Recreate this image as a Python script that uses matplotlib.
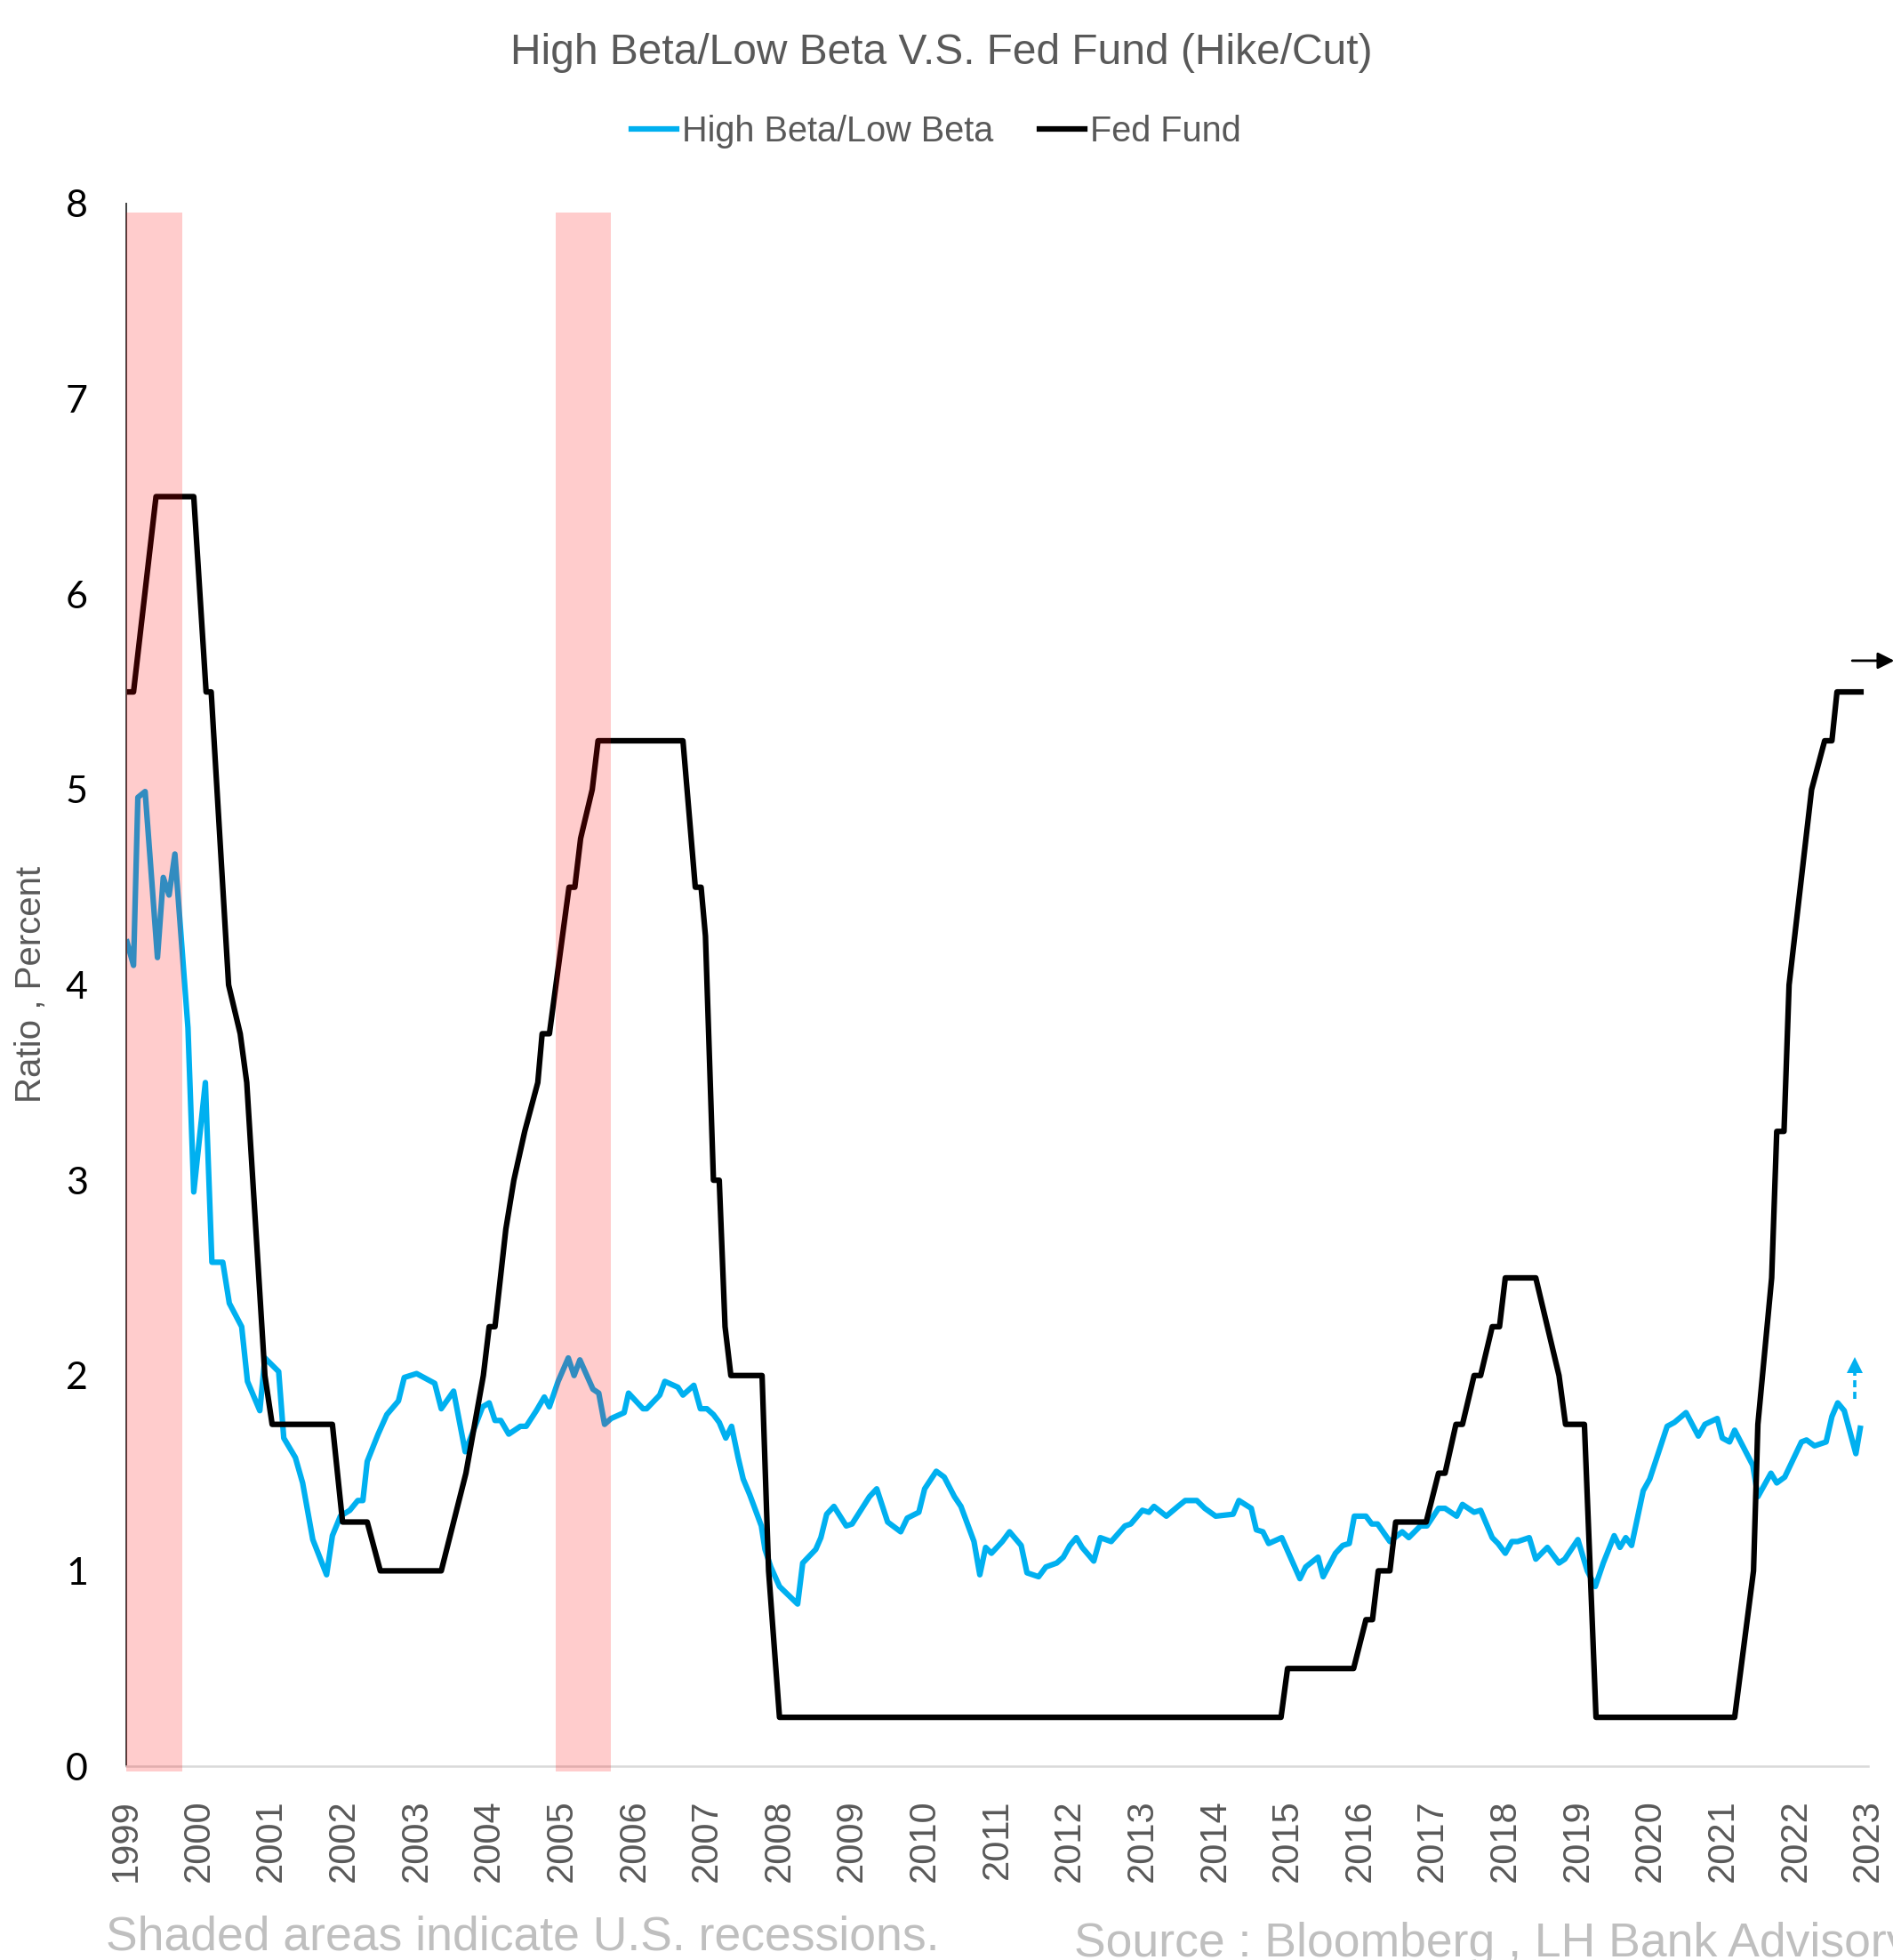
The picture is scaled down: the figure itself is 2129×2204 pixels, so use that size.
import numpy as np
import matplotlib.pyplot as plt

# High Beta / Low Beta ratio, x in decimal years as printed on the axis
beta_years = [1999.01, 1999.10, 1999.16, 1999.26, 1999.43, 1999.51, 1999.59, 1999.67,
              1999.85, 1999.93, 2000.09, 2000.18, 2000.33, 2000.42, 2000.59, 2000.67,
              2000.84, 2000.91, 2001.10, 2001.17, 2001.33, 2001.43, 2001.57, 2001.76,
              2001.84, 2001.95, 2002.08, 2002.19, 2002.26, 2002.32, 2002.47, 2002.59,
              2002.75, 2002.83, 2003.00, 2003.25, 2003.34, 2003.51, 2003.67, 2003.91,
              2004.00, 2004.08, 2004.16, 2004.27, 2004.43, 2004.51, 2004.65, 2004.76,
              2004.83, 2004.95, 2005.09, 2005.17, 2005.25, 2005.43, 2005.51, 2005.59,
              2005.68, 2005.86, 2005.92, 2006.12, 2006.17, 2006.35, 2006.42, 2006.60,
              2006.67, 2006.82, 2006.91, 2007.00, 2007.09, 2007.17, 2007.26, 2007.34,
              2007.43, 2007.50, 2007.59, 2007.75, 2007.80, 2007.88, 2008.00, 2008.25,
              2008.32, 2008.50, 2008.57, 2008.65, 2008.75, 2008.92, 2009.00, 2009.24,
              2009.34, 2009.49, 2009.67, 2009.76, 2009.92, 2010.00, 2010.16, 2010.27,
              2010.41, 2010.50, 2010.68, 2010.76, 2010.84, 2010.92, 2011.07, 2011.17,
              2011.33, 2011.41, 2011.57, 2011.67, 2011.82, 2011.91, 2012.00, 2012.09,
              2012.17, 2012.33, 2012.42, 2012.57, 2012.76, 2012.84, 2013.00, 2013.09,
              2013.16, 2013.33, 2013.49, 2013.59, 2013.75, 2013.86, 2014.01, 2014.25,
              2014.33, 2014.50, 2014.57, 2014.66, 2014.74, 2014.92, 2015.17, 2015.25,
              2015.42, 2015.49, 2015.66, 2015.76, 2015.85, 2015.92, 2016.08, 2016.16,
              2016.24, 2016.41, 2016.58, 2016.67, 2016.83, 2016.92, 2017.08, 2017.17,
              2017.33, 2017.41, 2017.57, 2017.66, 2017.82, 2017.90, 2018.00, 2018.09,
              2018.17, 2018.33, 2018.42, 2018.58, 2018.74, 2018.82, 2019.00, 2019.13,
              2019.24, 2019.35, 2019.50, 2019.58, 2019.66, 2019.74, 2019.90, 2019.99,
              2020.23, 2020.33, 2020.49, 2020.66, 2020.75, 2020.92, 2020.99, 2021.09,
              2021.16, 2021.41, 2021.48, 2021.66, 2021.74, 2021.85, 2022.08, 2022.15,
              2022.26, 2022.42, 2022.50, 2022.58, 2022.67, 2022.83, 2022.89]
beta_vals = [4.22, 4.10, 4.96, 4.99, 4.14, 4.55, 4.46, 4.67,
             3.78, 2.94, 3.50, 2.58, 2.58, 2.37, 2.25, 1.97,
             1.82, 2.09, 2.02, 1.68, 1.58, 1.45, 1.16, 0.98,
             1.18, 1.28, 1.31, 1.36, 1.36, 1.56, 1.70, 1.80,
             1.87, 1.99, 2.01, 1.96, 1.83, 1.92, 1.61, 1.84,
             1.86, 1.77, 1.77, 1.70, 1.74, 1.74, 1.82, 1.89,
             1.84, 1.97, 2.09, 2.00, 2.08, 1.93, 1.91, 1.75,
             1.78, 1.81, 1.91, 1.83, 1.83, 1.90, 1.97, 1.94,
             1.90, 1.95, 1.83, 1.83, 1.80, 1.76, 1.68, 1.74,
             1.58, 1.47, 1.39, 1.23, 1.11, 1.02, 0.92, 0.83,
             1.04, 1.11, 1.17, 1.29, 1.33, 1.23, 1.24, 1.38,
             1.42, 1.25, 1.20, 1.27, 1.30, 1.42, 1.51, 1.48,
             1.38, 1.33, 1.15, 0.98, 1.12, 1.09, 1.15, 1.20,
             1.13, 0.99, 0.97, 1.02, 1.04, 1.07, 1.13, 1.17,
             1.12, 1.05, 1.17, 1.15, 1.23, 1.24, 1.31, 1.30,
             1.33, 1.28, 1.33, 1.36, 1.36, 1.32, 1.28, 1.29,
             1.36, 1.32, 1.21, 1.20, 1.14, 1.17, 0.96, 1.02,
             1.07, 0.97, 1.09, 1.13, 1.14, 1.28, 1.28, 1.24,
             1.24, 1.15, 1.20, 1.17, 1.23, 1.23, 1.32, 1.32,
             1.28, 1.34, 1.30, 1.31, 1.17, 1.14, 1.09, 1.15,
             1.15, 1.17, 1.06, 1.12, 1.04, 1.06, 1.16, 1.00,
             0.92, 1.04, 1.18, 1.12, 1.17, 1.13, 1.41, 1.47,
             1.74, 1.76, 1.81, 1.69, 1.75, 1.78, 1.68, 1.66,
             1.72, 1.54, 1.38, 1.50, 1.45, 1.48, 1.66, 1.67,
             1.64, 1.66, 1.79, 1.86, 1.82, 1.60, 1.73]

# Fed Fund target rate (%)
fed_years = [1999.00, 1999.10, 1999.41, 1999.93, 2000.10, 2000.17, 2000.41, 2000.57,
             2000.66, 2000.91, 2001.01, 2001.84, 2001.98, 2002.32, 2002.50, 2003.34,
             2003.68, 2003.92, 2004.00, 2004.08, 2004.23, 2004.34, 2004.49, 2004.67,
             2004.73, 2004.83, 2005.10, 2005.18, 2005.26, 2005.42, 2005.50, 2006.67,
             2006.84, 2006.92, 2006.98, 2007.09, 2007.17, 2007.25, 2007.33, 2007.76,
             2007.85, 2008.00, 2014.91, 2015.00, 2015.91, 2016.08, 2016.17, 2016.25,
             2016.41, 2016.49, 2016.91, 2017.08, 2017.17, 2017.32, 2017.41, 2017.57,
             2017.66, 2017.82, 2017.92, 2018.00, 2018.42, 2018.74, 2018.83, 2019.09,
             2019.25, 2021.16, 2021.42, 2021.48, 2021.67, 2021.74, 2021.84, 2021.91,
             2022.22, 2022.40, 2022.50, 2022.57, 2022.90]
fed_vals = [5.50, 5.50, 6.50, 6.50, 5.50, 5.50, 4.00, 3.75,
            3.50, 2.00, 1.75, 1.75, 1.25, 1.25, 1.00, 1.00,
            1.50, 2.00, 2.25, 2.25, 2.75, 3.00, 3.25, 3.50,
            3.75, 3.75, 4.50, 4.50, 4.75, 5.00, 5.25, 5.25,
            4.50, 4.50, 4.25, 3.00, 3.00, 2.25, 2.00, 2.00,
            1.00, 0.25, 0.25, 0.50, 0.50, 0.75, 0.75, 1.00,
            1.00, 1.25, 1.25, 1.50, 1.50, 1.75, 1.75, 2.00,
            2.00, 2.25, 2.25, 2.50, 2.50, 2.00, 1.75, 1.75,
            0.25, 0.25, 1.00, 1.75, 2.50, 3.25, 3.25, 4.00,
            5.00, 5.25, 5.25, 5.50, 5.50]

recessions = [(1999.0, 1999.77), (2004.92, 2005.68)]
year_ticks = list(range(1999, 2024))
y_ticks = list(range(0, 9))

# arrows at the right end
fed_arrow = (2022.78, 2023.36, 5.66)
beta_arrow = (2022.82, 1.88, 2.02)

gray = '#595959'
blue = '#00B0F0'

fig = plt.figure(figsize=(21.29, 22.04), dpi=100)
ax = fig.add_axes([0.0667, 0.0989, 0.9202, 0.7972])

ax.plot(beta_years, beta_vals, color=blue, lw=4.5, zorder=2, solid_joinstyle='round',
        label='High Beta/Low Beta')
ax.plot(fed_years, fed_vals, color='black', lw=4.5, zorder=2.5, solid_joinstyle='round',
        label='Fed Fund')

for x0, x1 in recessions:
    ax.axvspan(x0, x1, ymin=-0.0035, ymax=0.9944, color='red', alpha=0.2, lw=0,
               zorder=3, clip_on=False)

ax.annotate('', xy=(fed_arrow[1], fed_arrow[2]), xytext=(fed_arrow[0], fed_arrow[2]),
            arrowprops=dict(arrowstyle='-|>', color='black', lw=2, mutation_scale=28,
                            shrinkA=0, shrinkB=0),
            annotation_clip=False)
ax.plot([beta_arrow[0]] * 2, [beta_arrow[1], beta_arrow[2]], color=blue, lw=2.6,
        ls=(0, (2.2, 1.4)), zorder=4)
ax.plot([beta_arrow[0]], [beta_arrow[2] + 0.035], marker='^', color=blue, ms=13,
        mew=0, zorder=4)

ax.set_xlim(1999, 2023)
ax.set_ylim(0, 8)
ax.set_xticks(year_ticks)
ax.set_xticklabels([str(y) for y in year_ticks], rotation=90, fontsize=30,
                   color=gray, family='Liberation Sans')
ax.set_yticks(y_ticks)
ax.set_yticklabels([str(v) for v in y_ticks], fontsize=31, color='black', family='Lato')
ax.tick_params(axis='x', length=0, pad=27)
ax.tick_params(axis='y', length=0, pad=31)

for s in ['top', 'right']:
    ax.spines[s].set_visible(False)
ax.spines['left'].set_color('#404040')
ax.spines['left'].set_linewidth(1.4)
ax.spines['bottom'].set_color('#D9D9D9')
ax.spines['bottom'].set_linewidth(1.8)

fig.text(0.4975, 0.973, 'High Beta/Low Beta V.S. Fed Fund (Hike/Cut)', ha='center',
         va='center', fontsize=34.5, color=gray, family='Liberation Sans')
fig.legend(loc='center', bbox_to_anchor=(0.4945, 0.933), ncol=2, frameon=False,
           prop={'family': 'Liberation Sans', 'size': 28.5}, labelcolor=gray,
           handlelength=1.3, handletextpad=0.15, columnspacing=1.3)
fig.text(0.0164, 0.4977, 'Ratio , Percent', rotation=90, ha='center', va='center',
         fontsize=29, color=gray, family='Liberation Sans')
fig.text(0.0559, 0.0054, 'Shaded areas indicate U.S. recessions.', ha='left',
         va='baseline', fontsize=38.5, color='#BFBFBF', family='Liberation Sans')
fig.text(0.5675, 0.0018, 'Source : Bloomberg , LH Bank Advisory', ha='left',
         va='baseline', fontsize=38.5, color='#BFBFBF', family='Liberation Sans')

fig.savefig('out.png', dpi=100)
